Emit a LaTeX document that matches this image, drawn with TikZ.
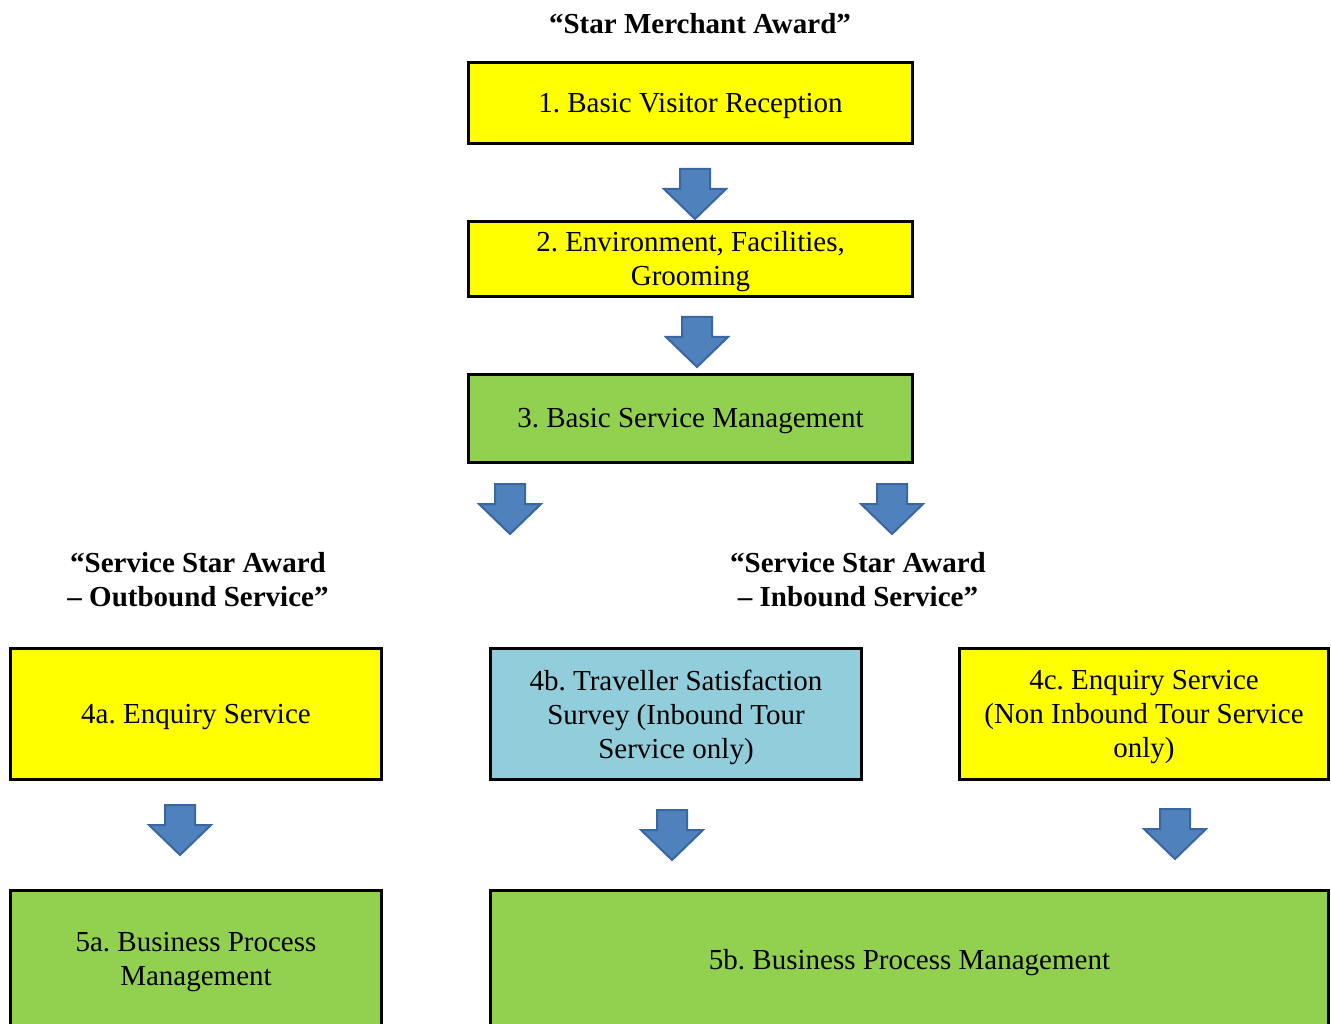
\documentclass[tikz,border=0pt]{standalone}
\usepackage{fontspec}
\setmainfont{Liberation Serif}
\frenchspacing
\definecolor{boxyellow}{HTML}{FFFF00}
\definecolor{boxgreen}{HTML}{92D050}
\definecolor{boxblue}{HTML}{92CDDC}
\definecolor{arrfill}{HTML}{4F81BD}
\definecolor{arrdraw}{HTML}{3A67A0}
\begin{document}
\begin{tikzpicture}[x=1pt,y=-1pt,
  box/.style={draw=black,line width=3pt,inner sep=0pt},
  ybox/.style={box,fill=boxyellow},
  gbox/.style={box,fill=boxgreen},
  bbox/.style={box,fill=boxblue},
  txt/.style={align=center,inner sep=0pt,font=\fontsize{29}{34}\selectfont},
  title/.style={align=center,font=\fontsize{29}{34}\selectfont\bfseries},
  downarrow/.pic={\draw[fill=arrfill,draw=arrdraw,line width=2pt,line join=miter]
     (-15,-25)--(15,-25)--(15,-5)--(31,-5)--(0,25)--(-31,-5)--(-15,-5)--cycle;}
]
\useasboundingbox (0,0) rectangle (1331,1024);
\clip (0,0) rectangle (1331,1024);

\node[title] (t1) at (700,24) {“Star Merchant Award”};
\node[title] (t2) at (198,580) {“Service Star Award\\– Outbound Service”};
\node[title] (t3) at (858,580) {“Service Star Award\\– Inbound Service”};

\node[ybox,minimum width=444,minimum height=81] (b1) at (690.5,103) {};
\node[gbox,minimum width=444,minimum height=88] (b3) at (690.5,418.5) {};
\node[ybox,minimum width=444,minimum height=75] (b2) at (690.5,259) {};
\node[ybox,minimum width=371,minimum height=131] (b4a) at (196,714) {};
\node[bbox,minimum width=371,minimum height=131] (b4b) at (676,714) {};
\node[ybox,minimum width=369,minimum height=131] (b4c) at (1144,714) {};
\node[gbox,minimum width=371,minimum height=138] (b5a) at (196,959.5) {};
\node[gbox,minimum width=838,minimum height=138] (b5b) at (909.5,959.5) {};

\node[txt] (l1) at ([yshift=-3pt]b1.center) {1. Basic Visitor Reception};
\node[txt] (l2) at ([yshift=-3pt]b2.center) {2. Environment, Facilities,\\Grooming};
\node[txt] (l3) at ([yshift=-3pt]b3.center) {3. Basic Service Management};
\node[txt] (l4a) at ([yshift=-3pt]b4a.center) {4a. Enquiry Service};
\node[txt] (l4b) at ([yshift=-3pt]b4b.center) {4b. Traveller Satisfaction\\Survey (Inbound Tour\\Service only)};
\node[txt] (l4c) at ([yshift=-3pt]b4c.center) {4c. Enquiry Service\\(Non Inbound Tour Service\\only)};
\node[txt] (l5a) at ([yshift=-3pt]b5a.center) {5a. Business Process\\Management};
\node[txt] (l5b) at ([yshift=-3pt]b5b.center) {5b. Business Process Management};

\pic (a1) at (695,194) {downarrow};
\pic (a2) at (697,342) {downarrow};
\pic (a3) at (510,509) {downarrow};
\pic (a4) at (892,509) {downarrow};
\pic (a5) at (180,830) {downarrow};
\pic (a6) at (672,835) {downarrow};
\pic (a7) at (1175,834) {downarrow};
\end{tikzpicture}
\end{document}
